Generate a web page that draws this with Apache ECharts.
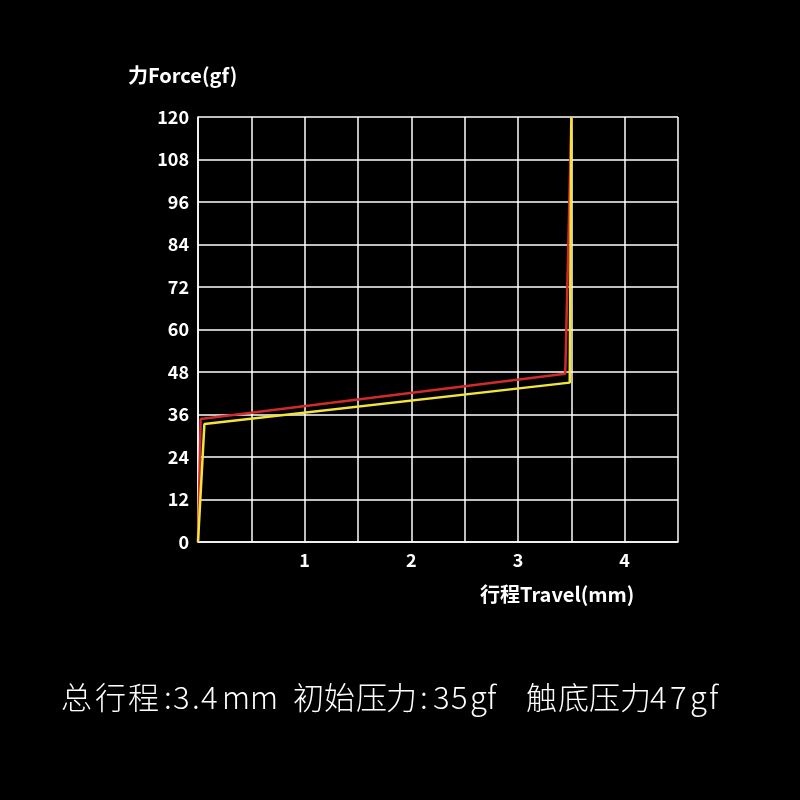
<!DOCTYPE html>
<html><head><meta charset="utf-8">
<script src="https://cdn.jsdelivr.net/npm/echarts@6/dist/echarts.min.js"></script>
<style>html,body{margin:0;padding:0;background:#000;}#c{width:800px;height:800px;}</style>
</head><body><div id="c"></div>
<script>
const redSeries = [[0,0],[0.025,34.7],[3.443,47.5],[3.5,120]];
const yellowSeries = [[0,0],[0.06,33.3],[3.485,45],[3.5,120]];
const xTicks = [1,2,3,4];
const yAxisName = '力Force(gf)';
const xAxisName = '行程Travel(mm)';
// summary line: 总行程：3.4mm  初始压力：35gf   触底压力47gf
const summaryParts = ['总', '行', '程', ':', '3', '.', '4', 'm', 'm', '初', '始', '压', '力', ':', '3', '5', 'g', 'f', '触', '底', '压', '力', '4', '7', 'g', 'f'];
const summaryLeft  = [61, 95, 128, 164, 173, 192, 201, 222, 250, 293, 324, 356, 386, 420, 433, 451, 470, 487, 526, 558, 589, 620, 650, 670, 690, 709];

const font = '"Noto Sans CJK SC","Noto Sans",sans-serif';
const chart = echarts.init(document.getElementById('c'));
const summaryGraphics = summaryParts.map((t, i) => ({
  type:'text', x: summaryLeft[i], y: 697,
  style:{text:t, fill:'#fff', font:'300 31px '+font, verticalAlign:'middle'}
}));
chart.setOption({
  backgroundColor:'#000',
  animation:false,
  grid:{left:198,right:122,top:117,bottom:258},
  xAxis:{type:'value',min:0,max:4.5,interval:0.5,
    axisLine:{show:true,lineStyle:{color:'#fff',width:1.5}},
    axisTick:{show:false},
    splitLine:{show:true,lineStyle:{color:'#fff',width:1.5}},
    axisLabel:{color:'#fff',fontFamily:font,fontWeight:'bold',fontSize:18,margin:9,
      formatter:v=>xTicks.includes(v)?String(v):''}},
  yAxis:{type:'value',min:0,max:120,interval:12,
    axisLine:{show:true,lineStyle:{color:'#fff',width:1.5}},
    axisTick:{show:false},
    splitLine:{show:true,lineStyle:{color:'#fff',width:1.5}},
    axisLabel:{color:'#fff',fontFamily:font,fontWeight:'bold',fontSize:18,margin:9}},
  series:[
    {type:'line',data:redSeries,symbol:'none',lineStyle:{color:'#d02a2a',width:2.5},z:3},
    {type:'line',data:yellowSeries,symbol:'none',lineStyle:{color:'#f3e43c',width:2.5},z:4}
  ],
  graphic:[
    {type:'text',x:128,y:75,style:{text:yAxisName,fill:'#fff',font:'bold 20px '+font,verticalAlign:'middle'}},
    {type:'text',x:480,y:594,style:{text:xAxisName,fill:'#fff',font:'bold 20px '+font,verticalAlign:'middle'}}
  ].concat(summaryGraphics)
});
</script></body></html>
